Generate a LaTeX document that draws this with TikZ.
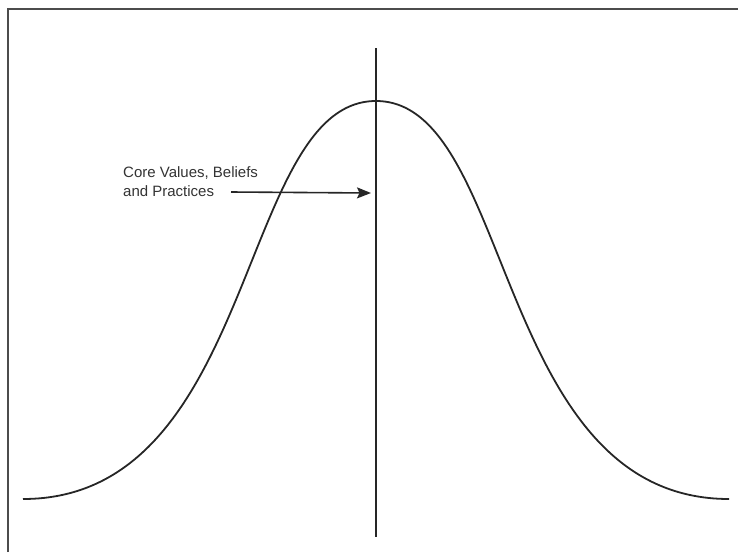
\documentclass[tikz,border=0pt]{standalone}
\usepackage{fontspec}
\setmainfont{Liberation Sans}
\usetikzlibrary{arrows.meta}
\begin{document}
\begin{tikzpicture}[x=1pt, y=-1pt, >={Stealth[length=14pt, width=11pt, inset=2.5pt]}, font=\fontsize{15}{19}\selectfont]
\tikzset{
	frame/.style={draw=black!70, line width=1.8pt},
	curve/.style={draw=black!85, line width=1.8pt},
	axis/.style={draw=black!85, line width=1.8pt},
	callout/.style={align=left, inner sep=0pt, anchor=north west, text=black!80}
}
\useasboundingbox (0,0) rectangle (738,552);

% Frame (left and top edges)
\coordinate (fbl) at (8,552);
\coordinate (ftl) at (8,9);
\coordinate (ftr) at (738,9);
\draw[frame] (fbl) -- (ftl) -- (ftr);

% Bell curve
\coordinate (lft) at (23,499);
\coordinate (peak) at (376,101);
\coordinate (rgt) at (729,499);
\draw[curve] (lft) .. controls (258,499) and (238,101) .. (peak)
	.. controls (514,101) and (494,499) .. (rgt);

% Centre line
\coordinate (top) at (376,48);
\coordinate (bot) at (376,537);
\draw[axis] (top) -- (bot);

% Label and arrow
\node[callout] (lbl) at (123,166) {Core Values, Beliefs\\and Practices};
\coordinate (start) at (231,192);
\coordinate (tip) at (371,193);
\draw[->, curve, line width=1.6pt] (start) -- (tip);

\end{tikzpicture}
\end{document}
